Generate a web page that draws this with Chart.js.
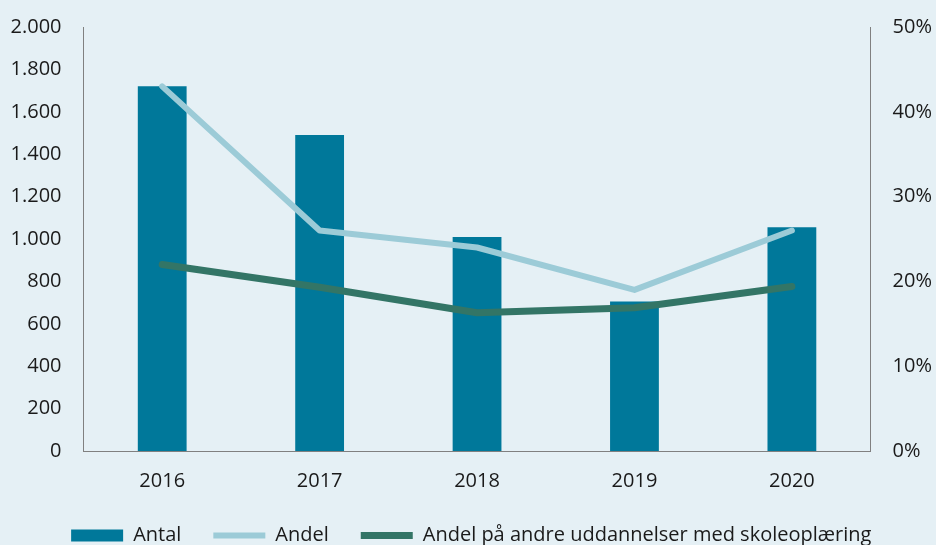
<!DOCTYPE html>
<html>
<head>
<meta charset="utf-8">
<script src="https://cdn.jsdelivr.net/npm/chart.js@4"></script>
<style>
  html, body { margin: 0; padding: 0; background: #e5f0f5; }
  #wrap { width: 936px; height: 545px; }
</style>
</head>
<body>
<div id="wrap"><canvas id="myChart" width="936" height="545"></canvas></div>
<script>
const years = ["2016", "2017", "2018", "2019", "2020"];
const antal = [1720, 1490, 1010, 705, 1055];
const andel = [43.0, 26.0, 24.0, 19.0, 26.0];
const andelAndre = [22.0, 19.3, 16.3, 16.9, 19.4];

const barColor = "#00789a";
const lightColor = "#9ccbd7";
const darkColor = "#337566";
const axisColor = "#808080";

Chart.defaults.font.family = "'Open Sans', sans-serif";
Chart.defaults.font.size = 20;
Chart.defaults.color = "#1a1a1a";

function thousands(v) {
    return String(v).replace(/\B(?=(\d{3})+(?!\d))/g, ".");
}

new Chart("myChart", {
    type: "bar",
    data: {
        labels: years,
        datasets: [{
            label: "Antal",
            data: antal,
            backgroundColor: barColor,
            yAxisID: "y",
            order: 2,
            barPercentage: 0.31,
            categoryPercentage: 1
        }, {
            type: "line",
            label: "Andel",
            data: andel,
            borderColor: lightColor,
            backgroundColor: lightColor,
            borderWidth: 6,
            borderCapStyle: "round",
            borderJoinStyle: "round",
            pointRadius: 0,
            tension: 0,
            yAxisID: "y1",
            order: 1
        }, {
            type: "line",
            label: "Andel på andre uddannelser med skoleoplæring",
            data: andelAndre,
            borderColor: darkColor,
            backgroundColor: darkColor,
            borderWidth: 7,
            borderCapStyle: "round",
            borderJoinStyle: "round",
            pointRadius: 0,
            tension: 0,
            yAxisID: "y1",
            order: 0
        }]
    },
    options: {
        responsive: false,
        animation: false,
        layout: { padding: { left: -11.5, right: -18, top: 27, bottom: -10.5 } },
        scales: {
            x: {
                grid: { display: false, drawTicks: false },
                border: { display: true, color: axisColor, width: 1 },
                ticks: { padding: 18.5 },
                // drop the unused padding below the labels
                afterFit: function (scale) { scale.height = 42.5; }
            },
            y: {
                position: "left",
                min: 0,
                max: 2000,
                grid: { display: false, drawTicks: false },
                border: { display: true, color: axisColor, width: 1 },
                ticks: { stepSize: 200, padding: 22, font: { lineHeight: 0.3 }, callback: v => thousands(v) }
            },
            y1: {
                position: "right",
                min: 0,
                max: 50,
                grid: { display: false, drawTicks: false },
                border: { display: true, color: axisColor, width: 1 },
                ticks: { stepSize: 10, padding: 22, font: { lineHeight: 0.3 }, callback: v => v + "%" }
            }
        },
        plugins: {
            legend: {
                position: "bottom",
                labels: {
                    usePointStyle: true,
                    pointStyleWidth: 52,
                    boxHeight: 12,
                    padding: 32,
                    sort: (a, b) => a.datasetIndex - b.datasetIndex,
                    generateLabels: function (chart) {
                        const items = Chart.defaults.plugins.legend.labels.generateLabels(chart);
                        items.forEach(it => {
                            it.pointStyle = it.datasetIndex === 0 ? "rect" : "line";
                            if (it.datasetIndex === 0) it.lineWidth = 0;
                        });
                        return items;
                    }
                }
            },
            tooltip: { enabled: false }
        }
    }
});
</script>
</body>
</html>
